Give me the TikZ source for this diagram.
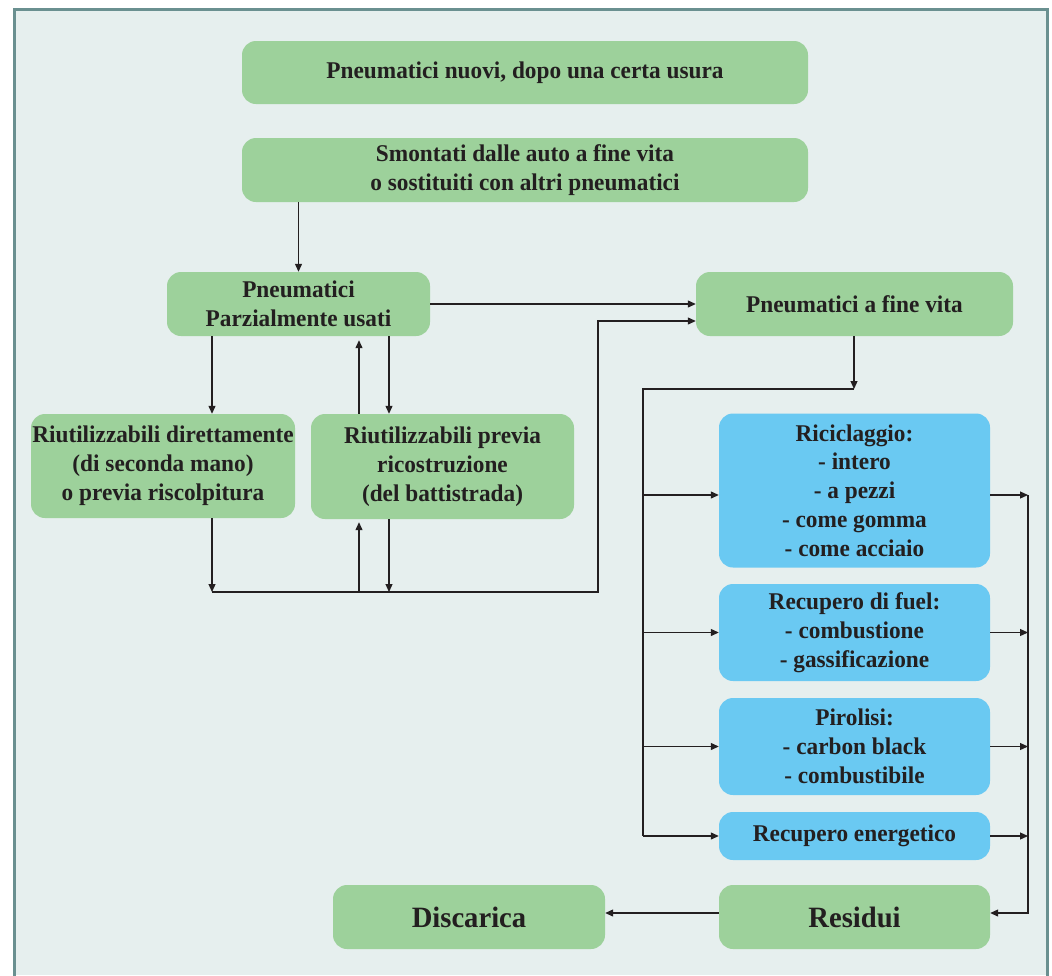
\documentclass[tikz,border=0pt]{standalone}
\usepackage{fontspec}
\newfontfamily\lab{Liberation Serif}[FakeStretch=0.97]
\usetikzlibrary{arrows.meta,calc}
\definecolor{bgc}{HTML}{E6EFEE}
\definecolor{framec}{HTML}{6A9090}
\definecolor{greenc}{HTML}{9DD19B}
\definecolor{bluec}{HTML}{6AC9F2}
\definecolor{txtc}{HTML}{231F20}
\definecolor{linec}{HTML}{231F20}
\tikzset{
  box/.style={fill=greenc, rounded corners=14pt, align=center, inner sep=0pt,
    text=txtc, font=\lab\bfseries\fontsize{24}{28.8}\selectfont},
  bluebox/.style={box, fill=bluec},
  bigbox/.style={box, font=\lab\bfseries\fontsize{29.5}{34}\selectfont},
  conn/.style={draw=linec, line width=1.2pt},
  arr/.style={conn, -{Triangle[length=8pt,width=7pt]}},
}
\begin{document}
\begin{tikzpicture}[x=1pt,y=-1pt]
\useasboundingbox (0,0) rectangle (1052,975);
\fill[white] (0,0) rectangle (1052,975);
\fill[bgc] (14,9) rectangle (1047,975);
\draw[framec, line width=3pt] (14,980) -- (14,9) -- (1047,9) -- (1047,980);

\node[box, minimum width=566pt, minimum height=63pt] (b1) at (525,72.5) {Pneumatici nuovi, dopo una certa usura};
\node[box, minimum width=566pt, minimum height=64pt] (b2) at (525,170) {Smontati dalle auto a fine vita\\o sostituiti con altri pneumatici};
\node[box, minimum width=263pt, minimum height=64pt] (b3) at (298.5,304) {Pneumatici\\Parzialmente usati};
\node[box, minimum width=264pt, minimum height=104pt] (b4) at (163,466) {Riutilizzabili direttamente\\(di seconda mano)\\o previa riscolpitura};
\node[box, minimum width=263pt, minimum height=105pt] (b5) at (442.5,466.5) {Riutilizzabili previa\\ricostruzione\\(del battistrada)};
\node[box, minimum width=317pt, minimum height=64pt] (b6) at (854.5,304) {Pneumatici a fine vita};

\node[bluebox, minimum width=271pt, minimum height=154pt] (r1) at (854.5,490.5) {Riciclaggio:\\- intero\\- a pezzi\\- come gomma\\- come acciaio};
\node[bluebox, minimum width=271pt, minimum height=97pt] (r2) at (854.5,632.5) {Recupero di fuel:\\- combustione\\- gassificazione};
\node[bluebox, minimum width=271pt, minimum height=97pt] (r3) at (854.5,746.5) {Pirolisi:\\- carbon black\\- combustibile};
\node[bluebox, minimum width=271pt, minimum height=48pt] (r4) at (854.5,836) {Recupero energetico};

\node[bigbox, minimum width=271pt, minimum height=64pt] (res) at (854.5,917) {Residui};
\node[bigbox, minimum width=272pt, minimum height=64pt] (dis) at (469,917) {Discarica};

% helper coordinates
\coordinate (cA) at (212,592);
\coordinate (cB) at (359,592);
\coordinate (cC) at (389,592);
\coordinate (cD) at (598,592);
\coordinate (cE) at (643,389);
\coordinate (cF) at (854,389);
\coordinate (cG) at (1028,495);
\coordinate (cH) at (1028,913);

\draw[arr] (b2.south -| b3.north) -- (b3.north);
\draw[arr] (b3.east) -- (b6.west);
\draw[arr] (b3.south -| cA) -- (b4.north -| cA);
\draw[arr] (b5.north -| cB) -- ([yshift=-4pt]b3.south -| cB);
\draw[arr] (b3.south -| cC) -- (b5.north -| cC);
\draw[arr] (b4.south -| cA) -- (cA);
\draw[arr] (cB) -- ([yshift=-3pt]b5.south -| cB);
\draw[arr] (b5.south -| cC) -- (cC);
\draw[arr] (cA) -- (cD) |- ([yshift=-17pt]b6.west);

\draw[arr] (b6.south -| cF) -- (cF);
\draw[conn] (cF) -- (cE) -- (cE |- r4.west);
\draw[arr] (cE |- cG) -- (r1.west |- cG);
\draw[arr] (cE |- r2.west) -- (r2.west);
\draw[arr] (cE |- r3.west) -- (r3.west);
\draw[arr] (cE |- r4.west) -- (r4.west);

\draw[arr] (r1.east |- cG) -- (cG);
\draw[arr] (r2.east) -- (cG |- r2.east);
\draw[arr] (r3.east) -- (cG |- r3.east);
\draw[arr] (r4.east) -- (cG |- r4.east);
\draw[arr] (cG) -- (cH) -- (res.east |- cH);
\draw[arr] (res.west |- cH) -- (dis.east |- cH);
\end{tikzpicture}
\end{document}
